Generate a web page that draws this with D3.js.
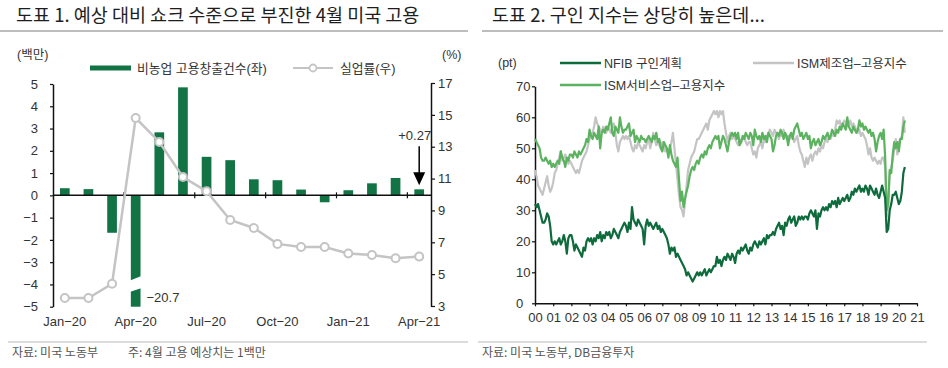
<!DOCTYPE html>
<html>
<head>
<meta charset="utf-8">
<script src="https://cdn.jsdelivr.net/npm/d3@7"></script>
<style>
  body { margin: 0; background: #fff; }
  svg { display: block; font-family: "Liberation Sans", "Noto Sans CJK KR", sans-serif; }
</style>
</head>
<body>
<script>
// ---- data: chart 1 (monthly, Jan-20 .. Apr-21) ----
var months = ["Jan−20", "Feb−20", "Mar−20", "Apr−20", "May−20", "Jun−20", "Jul−20", "Aug−20",
              "Sep−20", "Oct−20", "Nov−20", "Dec−20", "Jan−21", "Feb−21", "Mar−21", "Apr−21"];
var payrolls = [0.32, 0.28, -1.68, -20.7, 2.83, 4.85, 1.73, 1.58, 0.72, 0.68, 0.26, -0.31, 0.23, 0.54, 0.78, 0.27];
var unemployment = [3.5, 3.5, 4.4, 14.8, 13.3, 11.1, 10.2, 8.4, 7.9, 6.9, 6.7, 6.7, 6.3, 6.2, 6.0, 6.1];
var leftTicks = [-5, -4, -3, -2, -1, 0, 1, 2, 3, 4, 5];
var rightTicks = [3, 5, 7, 9, 11, 13, 15, 17];
var labelMonths = [0, 3, 6, 9, 12, 15];

// ---- data: chart 2 (monthly, one row per year) ----
var yearLabels = ["00", "01", "02", "03", "04", "05", "06", "07", "08", "09", "10",
                  "11", "12", "13", "14", "15", "16", "17", "18", "19", "20", "21"];
var nfib = [
  32, 31, 32, 30, 28, 26, 26, 27, 29, 28, 25, 20,
  19, 20, 19, 20, 21, 19, 20, 22, 20, 16, 21, 22,
  22, 20, 17, 19, 18, 17, 16, 15, 18, 17, 20, 21,
  20, 21, 19, 21, 20, 22, 21, 23, 20, 22, 21, 23,
  22, 23, 21, 22, 24, 23, 22, 21, 23, 24, 25, 26,
  25, 23, 26, 24, 31, 27, 26, 25, 27, 26, 25, 24,
  19, 25, 27, 25, 26, 25, 24, 25, 26, 24, 25, 23,
  24, 23, 22, 21, 19, 16, 18, 17, 18, 15, 16, 15,
  14, 13, 12, 11, 9, 10, 9, 8, 7, 8, 9, 10,
  9, 10, 9, 10, 11, 9, 10, 11, 10, 11, 12, 12,
  15, 13, 14, 12, 14, 15, 14, 16, 15, 14, 16, 15,
  13, 16, 17, 16, 18, 17, 18, 19, 17, 16, 18, 17,
  19, 20, 19, 18, 20, 19, 20, 21, 19, 22, 21, 22,
  22, 23, 22, 24, 25, 26, 24, 25, 22, 26, 25, 27,
  28, 26, 27, 28, 25, 26, 28, 27, 28, 27, 28, 28,
  27, 29, 30, 29, 28, 30, 24, 29, 28, 30, 31, 30,
  31, 30, 32, 31, 33, 32, 33, 31, 34, 32, 33, 34,
  33, 34, 35, 33, 34, 36, 35, 37, 36, 37, 38, 36,
  37, 36, 38, 37, 35, 38, 37, 36, 35, 37, 35, 34,
  36, 38, 36, 34, 23, 24, 30, 32, 35, 35, 36, 34,
  32, 33, 36, 42, 44
];
var ismMfg = [
  43, 41, 38, 37, 36, 35, 37, 39, 41, 38, 36, 37,
  39, 42, 43, 45, 47, 49, 46, 47, 48, 46, 45, 46,
  45, 44, 43, 42, 43, 42, 44, 46, 47, 48, 49, 51,
  53, 54, 55, 57, 60, 58, 57, 56, 55, 57, 56, 55,
  57, 56, 55, 57, 58, 55, 51, 49, 52, 53, 54, 53,
  54, 53, 54, 52, 50, 49, 51, 50, 52, 51, 50, 49,
  51, 50, 52, 53, 50, 52, 55, 53, 51, 52, 51, 50,
  52, 51, 49, 50, 48, 50, 52, 55, 50, 45, 40, 35,
  31, 30, 28, 33, 38, 43, 45, 47, 48, 49, 51, 53,
  53, 54, 55, 56, 57, 58, 56, 59, 60, 61, 62, 61,
  62, 60, 62, 61, 62, 58, 55, 52, 54, 55, 53, 54,
  53, 52, 51, 53, 52, 53, 54, 52, 51, 52, 52, 50,
  48, 49, 47, 50, 51, 52, 50, 53, 52, 54, 55, 56,
  55, 54, 56, 55, 54, 53, 55, 54, 56, 54, 53, 54,
  53, 55, 54, 52, 53, 54, 51, 49, 48, 46, 44, 47,
  45, 47, 48, 46, 48, 49, 48, 50, 49, 51, 50, 52,
  53, 52, 54, 53, 55, 54, 56, 59, 58, 59, 57, 58,
  59, 58, 57, 58, 59, 57, 58, 57, 56, 55, 56, 54,
  55, 54, 53, 51, 48, 50, 47, 46, 47, 46, 45, 46,
  45, 47, 47, 44, 28, 32, 42, 44, 46, 50, 53, 48,
  52, 53, 54, 60, 55
];
var ismSvc = [
  53, 52, 51, 50, 47, 46, 46, 47, 46, 45, 46, 44,
  45, 44, 45, 46, 45, 49, 47, 46, 44, 47, 46, 48,
  48, 47, 49, 48, 47, 49, 48, 49, 50, 51, 53, 52,
  56, 54, 53, 55, 54, 53, 57, 50, 55, 56, 55, 57,
  56, 58, 60, 55, 54, 57, 56, 55, 60, 57, 55, 56,
  56, 57, 58, 54, 55, 56, 52, 54, 53, 52, 54, 53,
  53, 52, 53, 54, 53, 52, 54, 53, 55, 52, 53, 50,
  49, 52, 51, 50, 47, 51, 48, 46, 45, 44, 47, 40,
  33, 36, 31, 34, 36, 38, 41, 43, 44, 43, 45, 46,
  45, 47, 48, 47, 49, 48, 50, 51, 50, 52, 53, 54,
  53, 54, 50, 52, 54, 53, 51, 49, 52, 54, 55, 54,
  55, 53, 55, 51, 52, 54, 53, 55, 54, 53, 55, 54,
  51, 56, 54, 53, 54, 52, 55, 53, 54, 52, 55, 54,
  53, 49, 51, 54, 55, 54, 56, 55, 53, 55, 54, 51,
  54, 55, 53, 56, 57, 58, 56, 54, 55, 53, 54, 55,
  53, 54, 50, 52, 53, 51, 52, 53, 51, 52, 54, 53,
  54, 55, 53, 54, 56, 55, 54, 56, 55, 57, 56, 58,
  57, 56, 60, 57, 56, 55, 57, 56, 55, 56, 59, 57,
  58, 56, 57, 56, 55, 56, 54, 55, 53, 49, 52, 54,
  55, 53, 56, 47, 30, 32, 43, 42, 48, 52, 50, 52,
  49, 53, 53, 57, 59
];
var y2Ticks = [0, 10, 20, 30, 40, 50, 60, 70];

// colours
var barGreen = "#127345";
var lineGray = "#c4c4c4";
var nfibGreen = "#0d6b3c";
var svcGreen = "#5bb35f";
var textColor = "#333";

var svg = d3.select("body")
    .append("svg")
    .attr("width", 948)
    .attr("height", 368);

// ---------- titles, rules and footers ----------
svg.append("text").attr("x", 16).attr("y", 22)
    .attr("font-family", "Noto Sans CJK KR").attr("font-size", 18.5).attr("fill", "#1e1e1e")
    .text("도표 1. 예상 대비 쇼크 수준으로 부진한 4월 미국 고용");
svg.append("text").attr("x", 492).attr("y", 22)
    .attr("font-family", "Noto Sans CJK KR").attr("font-size", 18.5).attr("fill", "#1e1e1e")
    .text("도표 2. 구인 지수는 상당히 높은데...");

[[0, 468, 31], [482, 943, 31]].forEach(function (r) {
    svg.append("line").attr("x1", r[0]).attr("x2", r[1]).attr("y1", r[2]).attr("y2", r[2])
        .attr("stroke", "#bdbdbd").attr("stroke-width", 2);
});
[[8, 468, 342], [478, 927, 342]].forEach(function (r) {
    svg.append("line").attr("x1", r[0]).attr("x2", r[1]).attr("y1", r[2]).attr("y2", r[2])
        .attr("stroke", "#d0d0d0").attr("stroke-width", 1.5);
});

svg.append("text").attr("x", 12).attr("y", 357).attr("font-size", 12).attr("fill", "#555")
    .attr("font-family", "Noto Sans CJK KR").text("자료: 미국 노동부");
svg.append("text").attr("x", 128).attr("y", 357).attr("font-size", 12).attr("fill", "#555")
    .attr("font-family", "Noto Sans CJK KR").text("주: 4월 고용 예상치는 1백만");
svg.append("text").attr("x", 482).attr("y", 357).attr("font-size", 12).attr("fill", "#555")
    .attr("font-family", "Noto Sans CJK KR").text("자료: 미국 노동부, DB금융투자");

// ---------- chart 1 ----------
var x1 = d3.scaleBand()
    .domain(d3.range(months.length))
    .range([53, 431])
    .paddingInner(0.59)
    .paddingOuter(0.295);
var y1 = d3.scaleLinear().domain([-5, 5]).range([306.7, 84]);
var y1r = d3.scaleLinear().domain([3, 17]).range([306, 83]);
var bw = x1.bandwidth();

var g1 = svg.append("g");

// axis units and legend
g1.append("text").attr("x", 17).attr("y", 59).attr("font-size", 12.5).attr("fill", textColor).text("(백만)");
g1.append("text").attr("x", 442).attr("y", 59).attr("font-size", 12.5).attr("fill", textColor).text("(%)");
g1.append("rect").attr("x", 90).attr("y", 65.5).attr("width", 41).attr("height", 5).attr("fill", barGreen);
g1.append("text").attr("x", 137).attr("y", 72.5).attr("font-size", 12.8).attr("fill", textColor).text("비농업 고용창출건수(좌)");
g1.append("line").attr("x1", 293).attr("x2", 333).attr("y1", 68).attr("y2", 68)
    .attr("stroke", lineGray).attr("stroke-width", 2);
g1.append("circle").attr("cx", 313).attr("cy", 68).attr("r", 3.5)
    .attr("fill", "#fff").attr("stroke", lineGray).attr("stroke-width", 1.8);
g1.append("text").attr("x", 340).attr("y", 72.5).attr("font-size", 12.8).attr("fill", textColor).text("실업률(우)");

// bars (clipped at the bottom of the axis)
g1.selectAll(".bar")
    .data(payrolls)
    .enter()
    .append("rect")
    .attr("class", "bar")
    .attr("x", (d, i) => x1(i))
    .attr("width", bw)
    .attr("y", d => y1(Math.max(d, 0)))
    .attr("height", d => Math.abs(y1(Math.max(d, -5)) - y1(0)))
    .attr("fill", barGreen);

// break mark on the April bar
var minIdx = payrolls.indexOf(d3.min(payrolls));
var bx0 = x1(minIdx) - 2, bx1 = x1(minIdx) + bw + 2;
g1.append("polygon")
    .attr("points", [[bx0, y1(-3.85)], [bx1, y1(-3.6)], [bx1, y1(-4.15)], [bx0, y1(-4.35)]].join(" "))
    .attr("fill", "#fff");
g1.append("text")
    .attr("x", x1(minIdx) + bw + 6)
    .attr("y", y1(-4.55) + 5)
    .attr("font-size", 13).attr("fill", textColor)
    .text(d3.format(".1f")(payrolls[minIdx]).replace("-", "−"));

// left axis
var leftAxis = d3.axisLeft(y1).tickValues(leftTicks).tickSize(3).tickSizeOuter(0).tickPadding(12);
var la = g1.append("g").attr("transform", "translate(53,0)").call(leftAxis);
// right axis
var rightAxis = d3.axisRight(y1r).tickValues(rightTicks).tickSize(4).tickSizeOuter(0).tickPadding(3);
var ra = g1.append("g").attr("transform", "translate(431,0)").call(rightAxis);
[la, ra].forEach(function (a) {
    a.select(".domain").attr("stroke", "#111").attr("stroke-width", 1.5);
    a.selectAll(".tick line").attr("stroke", "#111").attr("stroke-width", 1.2);
    a.selectAll(".tick text").attr("font-size", 13).attr("fill", textColor).attr("font-family", "Liberation Sans");
});

// zero line with quarter ticks
g1.append("line").attr("x1", 53).attr("x2", 431).attr("y1", y1(0)).attr("y2", y1(0))
    .attr("stroke", "#111").attr("stroke-width", 1.5);
g1.selectAll(".qtick")
    .data(d3.range(3, months.length, 3))
    .enter()
    .append("line")
    .attr("class", "qtick")
    .attr("x1", i => x1.range()[0] + i * x1.step())
    .attr("x2", i => x1.range()[0] + i * x1.step())
    .attr("y1", y1(0) - 3).attr("y2", y1(0) + 3)
    .attr("stroke", "#111").attr("stroke-width", 1.2);

// month labels
g1.selectAll(".mlabel")
    .data(labelMonths)
    .enter()
    .append("text")
    .attr("class", "mlabel")
    .attr("x", i => x1(i) + bw / 2)
    .attr("y", 326)
    .attr("text-anchor", "middle")
    .attr("font-size", 13).attr("fill", textColor)
    .text(i => months[i]);

// unemployment line
var uLine = d3.line().x((d, i) => x1(i) + bw / 2).y(d => y1r(d));
g1.append("path").datum(unemployment)
    .attr("d", uLine).attr("fill", "none")
    .attr("stroke", lineGray).attr("stroke-width", 2.5);
g1.selectAll(".udot")
    .data(unemployment)
    .enter()
    .append("circle")
    .attr("class", "udot")
    .attr("cx", (d, i) => x1(i) + bw / 2)
    .attr("cy", d => y1r(d))
    .attr("r", 4)
    .attr("fill", "#fff").attr("stroke", lineGray).attr("stroke-width", 2);

// annotation on the last bar
var lastIdx = payrolls.length - 1;
var ax = x1(lastIdx) + bw / 2;
var tipY = y1(payrolls[lastIdx]) - 4;
g1.append("line").attr("x1", ax).attr("x2", ax).attr("y1", tipY - 39).attr("y2", tipY - 11)
    .attr("stroke", "#000").attr("stroke-width", 1.5);
g1.append("polygon")
    .attr("points", [[ax - 6, tipY - 13], [ax + 6, tipY - 13], [ax, tipY]].join(" "))
    .attr("fill", "#000");
g1.append("text").attr("x", ax + 12).attr("y", tipY - 45)
    .attr("text-anchor", "end").attr("font-size", 13).attr("fill", textColor)
    .text("+" + d3.format(".2f")(payrolls[lastIdx]));

// ---------- chart 2 ----------
var x2 = d3.scaleLinear().domain([0, 21]).range([535, 917]);
var y2 = d3.scaleLinear().domain([0, 70]).range([303.3, 86.3]);
var g2 = svg.append("g");

g2.append("text").attr("x", 498).attr("y", 67).attr("font-size", 12.5).attr("fill", textColor).text("(pt)");

// legend
var legend2 = [
    { name: "NFIB 구인계획", color: nfibGreen, x: 560, y: 63 },
    { name: "ISM제조업–고용지수", color: lineGray, x: 753, y: 63 },
    { name: "ISM서비스업–고용지수", color: svcGreen, x: 560, y: 85 }
];
legend2.forEach(function (l) {
    g2.append("line").attr("x1", l.x).attr("x2", l.x + 41).attr("y1", l.y).attr("y2", l.y)
        .attr("stroke", l.color).attr("stroke-width", 2.5);
    g2.append("text").attr("x", l.x + 44).attr("y", l.y + 4.5).attr("font-size", 12.5)
        .attr("fill", textColor).text(l.name);
});

var yAxis2 = d3.axisLeft(y2).tickValues(y2Ticks).tickSize(3).tickSizeOuter(0).tickPadding(16);
var ya2 = g2.append("g").attr("transform", "translate(535,0)").call(yAxis2);
var xAxis2 = d3.axisBottom(x2).tickValues(d3.range(0, 22)).tickSize(3).tickSizeOuter(0).tickPadding(6)
    .tickFormat(d => yearLabels[d]);
var xa2 = g2.append("g").attr("transform", "translate(0,303.3)").call(xAxis2);
[ya2, xa2].forEach(function (a) {
    a.select(".domain").attr("stroke", "#111").attr("stroke-width", 1.5);
    a.selectAll(".tick line").attr("stroke", "#111").attr("stroke-width", 1.2);
    a.selectAll(".tick text").attr("font-size", 13).attr("fill", textColor).attr("font-family", "Liberation Sans");
});
ya2.selectAll(".tick text").attr("text-anchor", "start").attr("x", -19);

var line2 = d3.line().x((d, i) => x2(i / 12)).y(d => y2(d));
[[ismMfg, lineGray], [ismSvc, svcGreen], [nfib, nfibGreen]].forEach(function (s) {
    g2.append("path").datum(s[0])
        .attr("d", line2).attr("fill", "none")
        .attr("stroke", s[1]).attr("stroke-width", 2.2)
        .attr("stroke-linejoin", "round");
});
</script>
</body>
</html>
